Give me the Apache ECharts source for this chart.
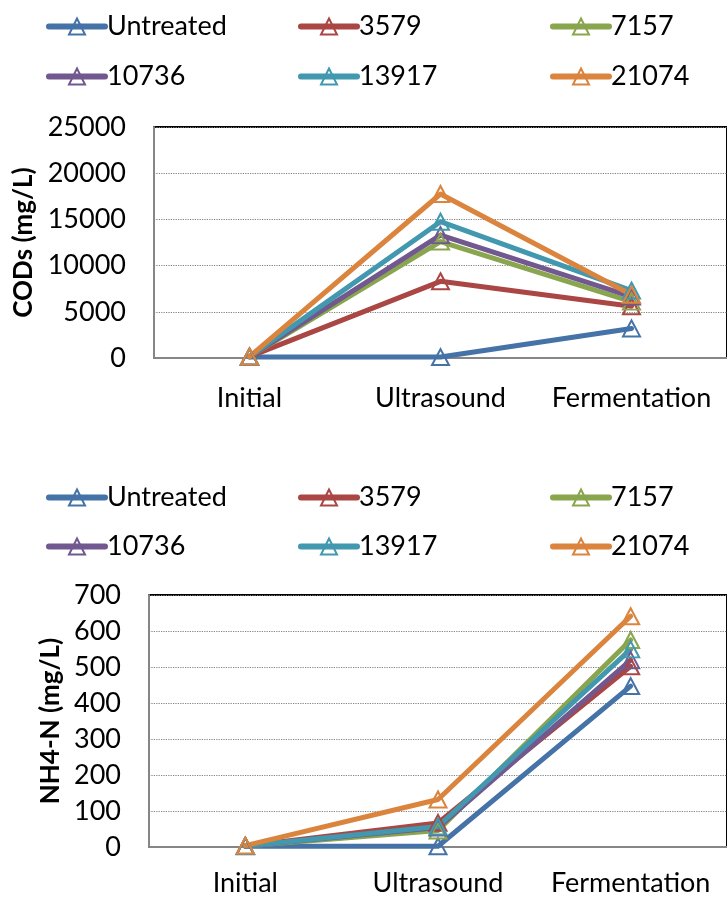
<!DOCTYPE html>
<html>
<head>
<meta charset="utf-8">
<script src="https://cdn.jsdelivr.net/npm/echarts@6/dist/echarts.min.js"></script>
<style>
  html, body { margin: 0; padding: 0; background: #fff; }
  #mybox { width: 727px; height: 900px; }
</style>
</head>
<body>
<div id="mybox"></div>
<script>
// categories and series names
var stages = ['Initial', 'Ultrasound', 'Fermentation'];
var seriesNames = ['Untreated', '3579', '7157', '10736', '13917', '21074'];
var seriesColors = ['#4572A7', '#AA4643', '#89A54E', '#71588F', '#4198AF', '#DB843D'];

// CODs (mg/L), one array per series
var codUntreated = [100, 100, 3200];
var cod3579 = [150, 8300, 5600];
var cod7157 = [150, 12600, 6100];
var cod10736 = [150, 13300, 6650];
var cod13917 = [150, 14750, 7300];
var cod21074 = [150, 17750, 6850];

// NH4-N (mg/L)
var nhUntreated = [2, 2, 447];
var nh3579 = [3, 67, 502];
var nh7157 = [3, 46, 575];
var nh10736 = [3, 54, 519];
var nh13917 = [3, 57, 549];
var nh21074 = [4, 132, 641];

var codData = [codUntreated, cod3579, cod7157, cod10736, cod13917, cod21074];
var nhData = [nhUntreated, nh3579, nh7157, nh10736, nh13917, nh21074];

var font = 'Lato, "Open Sans", sans-serif';

var mycharts = echarts.init(document.getElementById('mybox'), null, { renderer: 'canvas' });

//legend: one component per item so the columns line up
var legendCols = [41, 293, 545];
var legends = [];
function addLegends(rowTops) {
    seriesNames.forEach(function (name, i) {
        legends.push({
            data: [name],
            left: legendCols[i % 3],
            top: rowTops[Math.floor(i / 3)],
            itemWidth: 56,
            itemHeight: 20,
            itemGap: 0,
            selectedMode: false,
            lineStyle: { width: 6, cap: 'round' },
            textStyle: { fontFamily: font, fontSize: 27, color: '#000', padding: [0, 0, 0, -3] }
        });
    });
}
addLegends([8, 58]);
addLegends([479, 528]);

function makeX(gridIndex, margin) {
    return {
        type: 'category',
        gridIndex: gridIndex,
        data: stages,
        boundaryGap: true,
        axisTick: { show: false },
        axisLine: { lineStyle: { color: '#868686', width: 2 } },
        axisLabel: { interval: 0, fontFamily: font, fontSize: 27, color: '#000', margin: margin },
        splitLine: { show: false }
    };
}

function makeY(gridIndex, max, interval, name, nameGap) {
    return {
        type: 'value',
        gridIndex: gridIndex,
        min: 0,
        max: max,
        interval: interval,
        name: name,
        nameLocation: 'middle',
        nameGap: nameGap,
        nameTextStyle: { fontFamily: font, fontSize: 26, fontWeight: 'bold', color: '#000' },
        axisLine: { show: true, lineStyle: { color: '#868686', width: 2 } },
        axisTick: { show: false },
        axisLabel: {
            fontFamily: font, fontSize: 27, color: '#000', margin: 28,
            formatter: function (v) { return String(v); }
        },
        splitLine: { show: true, lineStyle: { color: '#808080', type: 'dotted', width: 1.2 } }
    };
}

var series = [];
function addSeries(dataList, gridIndex) {
    dataList.forEach(function (vals, i) {
        series.push({
            name: seriesNames[i],
            type: 'line',
            xAxisIndex: gridIndex,
            yAxisIndex: gridIndex,
            data: vals,
            symbol: 'triangle',
            symbolSize: [17, 16],
            lineStyle: { color: seriesColors[i], width: 5, cap: 'round', join: 'round' },
            itemStyle: { color: 'rgba(255,255,255,0)', borderColor: seriesColors[i], borderWidth: 2 },
            emphasis: { disabled: true }
        });
    });
}
addSeries(codData, 0);
addSeries(nhData, 1);

var optionObj = {
    animation: false,
    backgroundColor: '#fff',
    legend: legends,
    grid: [
        { left: 154, top: 127, width: 583, height: 231, show: true, borderColor: '#000', borderWidth: 2, containLabel: false },
        { left: 149, top: 595, width: 580, height: 252, show: true, borderColor: '#000', borderWidth: 2, containLabel: false }
    ],
    xAxis: [makeX(0, 27), makeX(1, 23)],
    yAxis: [
        makeY(0, 25000, 5000, 'CODs (mg/L)', 108),
        makeY(1, 700, 100, 'NH4-N (mg/L)', 80)
    ],
    series: series
};

mycharts.setOption(optionObj);
</script>
</body>
</html>
